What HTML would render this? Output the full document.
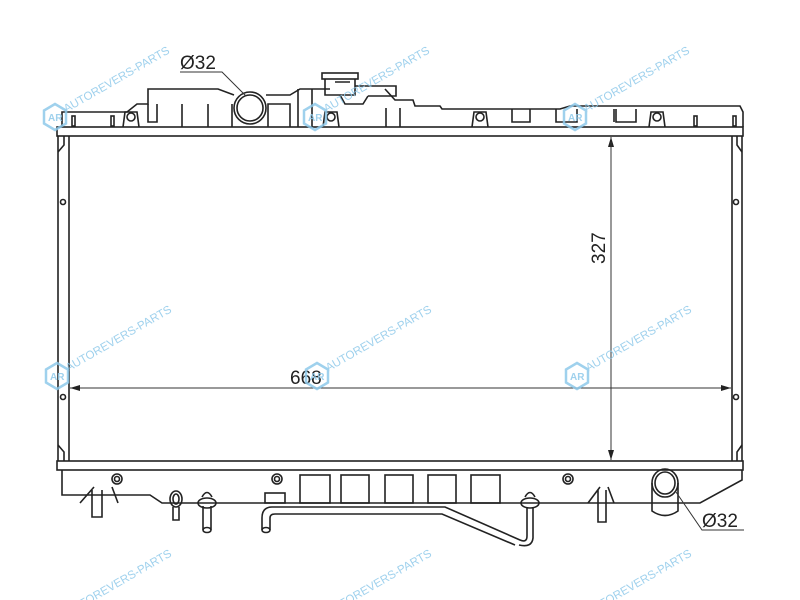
<!DOCTYPE html>
<html><head><meta charset="utf-8"><style>
html,body{margin:0;padding:0;background:#fff;width:800px;height:600px;overflow:hidden}
svg{display:block;overflow:hidden}
</style></head><body>
<svg width="800" height="600" viewBox="0 0 800 600" xmlns="http://www.w3.org/2000/svg" font-family="Liberation Sans, Arial, sans-serif">
<defs>
<g id="wm">
  <polygon points="0,-13 11,-6.5 11,6.5 0,13 -11,6.5 -11,-6.5" fill="none" stroke="#8ec9ea" stroke-width="2.5"/>
  <text x="-7" y="4" font-size="10" fill="#8ec9ea" font-weight="bold">AR</text>
  <text x="12" y="2" font-size="11.5" fill="#8ec9ea" transform="rotate(-30)">AUTOREVERS-PARTS</text>
</g>
<marker id="ar" markerWidth="10" markerHeight="6" refX="10" refY="3" orient="auto" markerUnits="userSpaceOnUse">
  <path d="M0,0 L10,3 L0,6 z" fill="#222"/>
</marker>
</defs>
<g fill="none" stroke="#222" stroke-width="1.6">
<rect x="57" y="127" width="686" height="9"/>
<rect x="57" y="461" width="686" height="9"/>
<path d="M58,136 L58,461 M69,136 L69,461 M732,136 L732,461 M742,136 L742,461"/>
<path d="M64,136 L64,145 L58,152 M737,136 L737,145 L742,152 M64,461 L64,452 L58,445 M737,461 L737,452 L742,445"/>
<circle cx="63" cy="202" r="2.5"/><circle cx="63" cy="397" r="2.5"/>
<circle cx="736" cy="202" r="2.5"/><circle cx="736" cy="397" r="2.5"/>
<path d="M62,127 L62,112 L127,112 L137,104 L148,104 L148,89 L218,89 L234,95 M266,95 L290,95 L300,89 L330,89 M385,89 L395,100 L413,100 L415,106 L440,106 L442,109 L500,109 L560,109 L570,106 L640,106 L650,106 L705,106 L740,106 L743,112 L743,127"/>
<path d="M148,104 L148,122 L157,122 L157,104 M182,104 L182,127 M208,104 L208,127 M232,127 L232,104 M268,127 L268,104 L290,104 L290,127 M298,89 L298,127 M312,89 L312,127 M386,108 L386,127 M400,108 L400,127"/>
<circle cx="250" cy="108" r="16"/><circle cx="250" cy="108" r="13"/>
<rect x="322" y="73" width="36" height="6"/>
<path d="M325,79 L325,95 L355,95 L355,79 M355,86 L396,86 L396,96 L368,96 M340,95 L345,104 L363,104 L368,96 M335,82 L350,82"/>
<g>
<path d="M123,127 L125,112 L137,112 L139,127"/><circle cx="131" cy="117" r="4"/>
<path d="M323,127 L325,112 L337,112 L339,127"/><circle cx="331" cy="117" r="4"/>
<path d="M472,127 L474,112 L486,112 L488,127"/><circle cx="480" cy="117" r="4"/>
<path d="M649,127 L651,112 L663,112 L665,127"/><circle cx="657" cy="117" r="4"/>
</g>
<path d="M512,109 L512,122 L530,122 L530,109 M556,109 L556,122 L577,122 L577,109 M614,109 L614,122 M616,109 L616,122 L636,122 L636,109"/>
<rect x="72" y="116" width="3" height="10"/><rect x="111" y="116" width="3" height="10"/>
<rect x="694" y="116" width="3" height="10"/><rect x="733" y="116" width="3" height="10"/>
<path d="M62,470 L62,495 L150,495 L162,503 L250,503 L298,503 L640,503 L700,503 L742,480 L742,470"/>
<circle cx="117" cy="479" r="5"/><circle cx="117" cy="479" r="2.5"/>
<circle cx="277" cy="479" r="5"/><circle cx="277" cy="479" r="2.5"/>
<circle cx="568" cy="479" r="5"/><circle cx="568" cy="479" r="2.5"/>
<rect x="300" y="475" width="30" height="28"/><rect x="341" y="475" width="28" height="28"/>
<rect x="385" y="475" width="28" height="28"/><rect x="428" y="475" width="28" height="28"/>
<rect x="471" y="475" width="29" height="28"/>
<path d="M80,503 L94,487 M112,487 L118,503 M92,490 L92,517 L102,517 L102,490"/>
<path d="M588,503 L600,487 M608,487 L614,503 M598,490 L598,522 L606,522 L606,490"/>
<ellipse cx="176" cy="499" rx="6" ry="8"/><ellipse cx="176" cy="499" rx="3" ry="5"/>
<path d="M173,507 L173,520 L179,520 L179,507"/>
<ellipse cx="207" cy="503" rx="9" ry="5"/>
<path d="M202,497 Q207,488 212,497 M203,506 L203,530 M211,506 L211,530"/><ellipse cx="207" cy="530" rx="4" ry="2.5"/>
<rect x="265" y="493" width="20" height="10"/>
<path d="M262,530 L262,518 Q262,507 272,507 L445,507 L520,540 Q527,543 527,536 L527,507 M270,530 L270,518 Q270,514 275,514 L442,514 L515,545"/>
<ellipse cx="266" cy="530" rx="4" ry="2.5"/>
<path d="M519,545 Q532,548 533,538 L533,507"/>
<ellipse cx="530" cy="503" rx="9" ry="5"/>
<path d="M525,497 Q530,488 535,497"/>
<ellipse cx="665" cy="483" rx="13" ry="14"/><ellipse cx="665" cy="483" rx="10" ry="11"/>
<path d="M652,483 L652,511 Q665,520 678,511 L678,483"/>
</g>
<g stroke="#333" stroke-width="1">
<line x1="611" y1="455" x2="611" y2="137" marker-end="url(#ar)"/>
<line x1="611" y1="142" x2="611" y2="460" marker-end="url(#ar)"/>
<line x1="600" y1="388" x2="70" y2="388" marker-end="url(#ar)"/>
<line x1="200" y1="388" x2="731" y2="388" marker-end="url(#ar)"/>
<path d="M180,72 L222,72 L246,96" fill="none"/>
<path d="M744,530 L702,530 L676,492" fill="none"/>
</g>
<g fill="#222" font-size="19">
<text x="180" y="69">Ø32</text>
<text x="702" y="527">Ø32</text>
<text x="290" y="384">668</text>
<text transform="translate(605,264) rotate(-90)">327</text>
</g>
<g opacity="0.85">
<use href="#wm" x="55" y="117"/><use href="#wm" x="315" y="117"/><use href="#wm" x="575" y="117"/>
<use href="#wm" x="57" y="376"/><use href="#wm" x="317" y="376"/><use href="#wm" x="577" y="376"/>
<use href="#wm" x="57" y="620"/><use href="#wm" x="317" y="620"/><use href="#wm" x="577" y="620"/>
</g>
</svg>
</body></html>
